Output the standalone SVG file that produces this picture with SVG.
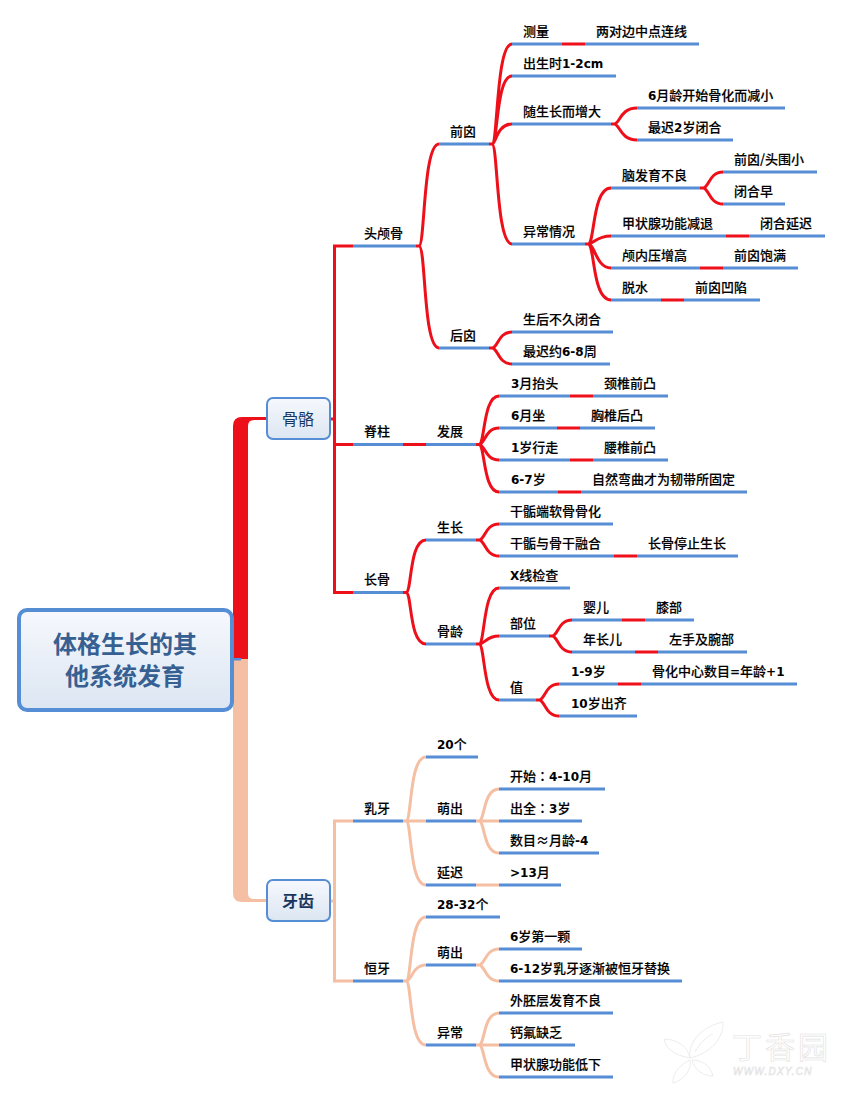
<svg xmlns="http://www.w3.org/2000/svg" width="842" height="1094" viewBox="0 0 842 1094">
<style>
text{font-family:"Noto Sans CJK SC","Noto Sans",sans-serif;font-size:13px;font-weight:500;fill:#000;stroke:#000;stroke-width:.15}
.l{font-family:"DejaVu Sans",sans-serif;font-size:12px;font-weight:700;stroke:none}
.c{font-family:"Noto Sans CJK TC",sans-serif}
.u{stroke:#558ed5;stroke-width:3;fill:none}
.r{stroke:#ed0f1a;stroke-width:3;fill:none}
.p{stroke:#f5bfa3;stroke-width:3;fill:none}
.box{fill:url(#g);stroke:#558ed5;stroke-width:2}
text.t1{font-size:16px;fill:#17365d;stroke:none;font-weight:400;text-anchor:middle}
text.t2{font-size:16px;fill:#17365d;stroke:none;font-weight:700;text-anchor:middle}
text.t0{font-size:24px;fill:#376092;stroke:none;font-weight:700;text-anchor:middle}
.wm{fill:#fff;stroke:#e4e4e4;stroke-width:.7}
text.wt{fill:#fff;stroke:#e2e2e2;stroke-width:.6;font-family:"Liberation Sans",sans-serif}
</style>
<defs>
<linearGradient id="g" x1="0" y1="0" x2="0" y2="1"><stop offset="0" stop-color="#f6f8fd"/><stop offset="1" stop-color="#dce6f2"/></linearGradient>
</defs>
<rect width="842" height="1094" fill="#fff"/>
<g id="watermark">
<path class="wm" d="M690 1058C688 1040 704 1026 723 1022C724 1040 708 1054 690 1058Z"/>
<path class="wm" d="M695 1052C700 1042 708 1036 713 1034"/>
<path class="wm" d="M690 1058C680 1056 666 1052 664 1039C676 1039 688 1046 690 1058Z"/>
<path class="wm" d="M690 1060C682 1064 672 1072 673 1083C684 1080 692 1070 690 1060Z"/>
<path class="wm" d="M692 1060C700 1060 710 1064 713 1076C704 1076 694 1070 692 1060Z"/>
<text class="wt" x="732" y="1058" style="font-family:'Noto Sans CJK SC',sans-serif;font-size:30px;font-weight:400;letter-spacing:3px">丁香园</text>
<text class="wt" x="733" y="1075" style="font-size:10px;font-style:italic;letter-spacing:1.2px">WWW.DXY.CN</text>
</g>
<g id="connectors">
<path d="M233 659V426Q233 417 242 417H267V420H254Q248 420 248 426V659Z" fill="#ed0f1a"/>
<path d="M233 659V893Q233 902 242 902H267V899H254Q248 899 248 893V659Z" fill="#f5bfa3"/>
<rect x="233" y="658" width="8" height="2.5" fill="#558ed5"/>
<path class="r" d="M330 419H334M353 246H334.500V592.500H353M334.500 444.500H353M403 444.500H426M476 444.500H479M403 592.500H406"/>
<path class="r" d="M416 246H419C425 246 423 144 439 144M419 246C426 246 423 348 439 348"/>
<path class="r" d="M489 144H492C498 144 496 44 512 44M492 144C498 144 496 76 512 76M492 144C496 144 497 124 512 124M492 144C498 144 496 244 512 244M562 44H585"/>
<path class="r" d="M611 124H614C620 124 620 108 637 108M614 124C620 124 620 140 637 140"/>
<path class="r" d="M585 244H588C595 244 592 188 611 188M588 244C594 244 596 236 611 236M588 244C595 244 596 268 611 268M588 244C595 244 592 300 611 300M726 236H749M700 268H723M661 300H684"/>
<path class="r" d="M700 188H703C709 188 709 172 723 172M703 188C709 188 709 204 723 204"/>
<path class="r" d="M489 348H492C498 348 498 332 512 332M492 348C498 348 498 364 512 364"/>
<path class="r" d="M479 444.500C485 444.500 483 396 499 396M479 444.500C485 444.500 485 428 499 428M479 444.500C485 444.500 485 460 499 460M479 444.500C485 444.500 483 492 499 492M570 396H593M557 428H580M570 460H593M558 492H581"/>
<path class="r" d="M406 592.500C412 592.500 409 540 426 540M406 592.500C412 592.500 409 644 426 644"/>
<path class="r" d="M476 540H479C485 540 485 524 499 524M479 540C485 540 485 556 499 556M614 556H637"/>
<path class="r" d="M476 644H479C485 644 483 588 499 588M479 644C485 644 486 636 499 636M479 644C485 644 483 700 499 700"/>
<path class="r" d="M549 636H552C558 636 558 620 572 620M552 636C558 636 558 652 572 652M622 620H645M635 652H658"/>
<path class="r" d="M536 700H539C545 700 545 684 559 684M539 700C545 700 545 716 559 716M618 684H641"/>
<path class="p" d="M330 901H334.500M353 821H334.500V981H353"/>
<path class="p" d="M403 821H406C412 821 409 757 426 757M406 821H426M406 821C412 821 409 885 426 885"/>
<path class="p" d="M476 821H479C485 821 483 789 499 789M479 821H499M479 821C485 821 483 853 499 853M476 885H499"/>
<path class="p" d="M403 981H406C412 981 409 917 426 917M406 981C412 981 412 965 426 965M406 981C412 981 409 1045 426 1045"/>
<path class="p" d="M476 965H479C485 965 485 949 499 949M479 965C485 965 485 981 499 981"/>
<path class="p" d="M476 1045H479C485 1045 483 1013 499 1013M479 1045H499M479 1045C485 1045 483 1077 499 1077"/>
</g>
<g id="root"><rect x="19" y="610" width="213" height="100" rx="8" fill="url(#g)" stroke="#558ed5" stroke-width="4"/><text class="t0" x="125" y="653">体格生长的其</text><text class="t0" x="125" y="685">他系统发育</text></g>
<g id="n-guge"><rect class="box" x="267" y="398" width="63" height="41" rx="6"/><text class="t1" x="298" y="425">骨骼</text></g>
<g id="n-yachi"><rect class="box" x="267" y="880" width="63" height="41" rx="6"/><text class="t2" x="298" y="907">牙齿</text></g>
<g id="n1"><path class="u" d="M353 246H416"/><text x="364" y="238">头颅骨</text></g>
<g id="n2"><path class="u" d="M439 144H489"/><text x="450" y="136">前囟</text></g>
<g id="n3"><path class="u" d="M512 44H562"/><text x="523" y="36">测量</text></g>
<g id="n4"><path class="u" d="M585 44H699"/><text x="596" y="36">两对边中点连线</text></g>
<g id="n5"><path class="u" d="M512 76H616"/><text x="523" y="68">出生时<tspan class="l">1-2cm</tspan></text></g>
<g id="n6"><path class="u" d="M512 124H611"/><text x="523" y="116">随生长而增大</text></g>
<g id="n7"><path class="u" d="M637 108H785"/><text x="648" y="100"><tspan class="l">6</tspan>月龄开始骨化而减小</text></g>
<g id="n8"><path class="u" d="M637 140H733"/><text x="648" y="132">最迟<tspan class="l">2</tspan>岁闭合</text></g>
<g id="n9"><path class="u" d="M512 244H585"/><text x="523" y="236">异常情况</text></g>
<g id="n10"><path class="u" d="M611 188H700"/><text x="622" y="180">脑发育不良</text></g>
<g id="n11"><path class="u" d="M723 172H817"/><text x="734" y="164">前囟/头围小</text></g>
<g id="n12"><path class="u" d="M723 204H785"/><text x="734" y="196">闭合早</text></g>
<g id="n13"><path class="u" d="M611 236H726"/><text x="622" y="228">甲状腺功能减退</text></g>
<g id="n14"><path class="u" d="M749 236H825"/><text x="760" y="228">闭合延迟</text></g>
<g id="n15"><path class="u" d="M611 268H700"/><text x="622" y="260">颅内压增高</text></g>
<g id="n16"><path class="u" d="M723 268H798"/><text x="734" y="260">前囟饱满</text></g>
<g id="n17"><path class="u" d="M611 300H661"/><text x="622" y="292">脱水</text></g>
<g id="n18"><path class="u" d="M684 300H760"/><text x="695" y="292">前囟凹陷</text></g>
<g id="n19"><path class="u" d="M439 348H489"/><text x="450" y="340">后囟</text></g>
<g id="n20"><path class="u" d="M512 332H613"/><text x="523" y="324">生后不久闭合</text></g>
<g id="n21"><path class="u" d="M512 364H610"/><text x="523" y="356">最迟约<tspan class="l">6-8</tspan>周</text></g>
<g id="n22"><path class="u" d="M353 444.500H403"/><text x="364" y="436">脊柱</text></g>
<g id="n23"><path class="u" d="M426 444.500H476"/><text x="437" y="436">发展</text></g>
<g id="n24"><path class="u" d="M499 396H570"/><text x="511" y="388"><tspan class="l">3</tspan>月抬头</text></g>
<g id="n25"><path class="u" d="M593 396H668"/><text x="604" y="388">颈椎前凸</text></g>
<g id="n26"><path class="u" d="M499 428H557"/><text x="511" y="420"><tspan class="l">6</tspan>月坐</text></g>
<g id="n27"><path class="u" d="M580 428H655"/><text x="591" y="420">胸椎后凸</text></g>
<g id="n28"><path class="u" d="M499 460H570"/><text x="511" y="452"><tspan class="l">1</tspan>岁行走</text></g>
<g id="n29"><path class="u" d="M593 460H668"/><text x="604" y="452">腰椎前凸</text></g>
<g id="n30"><path class="u" d="M499 492H558"/><text x="511" y="484"><tspan class="l">6-7</tspan>岁</text></g>
<g id="n31"><path class="u" d="M581 492H747"/><text x="592" y="484">自然弯曲才为韧带所固定</text></g>
<g id="n32"><path class="u" d="M353 592.500H403"/><text x="364" y="584">长骨</text></g>
<g id="n33"><path class="u" d="M426 540H476"/><text x="437" y="532">生长</text></g>
<g id="n34"><path class="u" d="M499 524H613"/><text x="510" y="516">干骺端软骨骨化</text></g>
<g id="n35"><path class="u" d="M499 556H614"/><text x="510" y="548">干骺与骨干融合</text></g>
<g id="n36"><path class="u" d="M637 556H738"/><text x="648" y="548">长骨停止生长</text></g>
<g id="n37"><path class="u" d="M426 644H476"/><text x="437" y="636">骨龄</text></g>
<g id="n38"><path class="u" d="M499 588H570"/><text x="510" y="580"><tspan class="l">X</tspan>线检查</text></g>
<g id="n39"><path class="u" d="M499 636H549"/><text x="510" y="628">部位</text></g>
<g id="n40"><path class="u" d="M572 620H622"/><text x="583" y="612">婴儿</text></g>
<g id="n41"><path class="u" d="M645 620H694"/><text x="656" y="612">膝部</text></g>
<g id="n42"><path class="u" d="M572 652H635"/><text x="583" y="644">年长儿</text></g>
<g id="n43"><path class="u" d="M658 652H747"/><text x="669" y="644">左手及腕部</text></g>
<g id="n44"><path class="u" d="M499 700H536"/><text x="510" y="692">值</text></g>
<g id="n45"><path class="u" d="M559 684H618"/><text x="571" y="676"><tspan class="l">1-9</tspan>岁</text></g>
<g id="n46"><path class="u" d="M641 684H797"/><text x="652" y="676">骨化中心数目<tspan class="l">=</tspan>年龄<tspan class="l">+1</tspan></text></g>
<g id="n47"><path class="u" d="M559 716H637"/><text x="571" y="708"><tspan class="l">10</tspan>岁出齐</text></g>
<g id="n48"><path class="u" d="M353 821H403"/><text x="364" y="813">乳牙</text></g>
<g id="n49"><path class="u" d="M426 757H478"/><text x="437" y="749"><tspan class="l">20</tspan>个</text></g>
<g id="n50"><path class="u" d="M426 821H476"/><text x="437" y="813">萌出</text></g>
<g id="n51"><path class="u" d="M499 789H605"/><text x="510" y="781">开始<tspan class="c">：</tspan><tspan class="l">4-10</tspan>月</text></g>
<g id="n52"><path class="u" d="M499 821H582"/><text x="510" y="813">出全<tspan class="c">：</tspan><tspan class="l">3</tspan>岁</text></g>
<g id="n53"><path class="u" d="M499 853H599"/><text x="510" y="845">数目≈月龄<tspan class="l">-4</tspan></text></g>
<g id="n54"><path class="u" d="M426 885H476"/><text x="437" y="877">延迟</text></g>
<g id="n55"><path class="u" d="M499 885H561"/><text x="510" y="877"><tspan class="l">&gt;13</tspan>月</text></g>
<g id="n56"><path class="u" d="M353 981H403"/><text x="364" y="973">恒牙</text></g>
<g id="n57"><path class="u" d="M426 917H500"/><text x="437" y="909"><tspan class="l">28-32</tspan>个</text></g>
<g id="n58"><path class="u" d="M426 965H476"/><text x="437" y="957">萌出</text></g>
<g id="n59"><path class="u" d="M499 949H582"/><text x="510" y="941"><tspan class="l">6</tspan>岁第一颗</text></g>
<g id="n60"><path class="u" d="M499 981H682"/><text x="510" y="973"><tspan class="l">6-12</tspan>岁乳牙逐渐被恒牙替换</text></g>
<g id="n61"><path class="u" d="M426 1045H476"/><text x="437" y="1037">异常</text></g>
<g id="n62"><path class="u" d="M499 1013H613"/><text x="510" y="1005">外胚层发育不良</text></g>
<g id="n63"><path class="u" d="M499 1045H575"/><text x="510" y="1037">钙氟缺乏</text></g>
<g id="n64"><path class="u" d="M499 1077H613"/><text x="510" y="1069">甲状腺功能低下</text></g>
</svg>
